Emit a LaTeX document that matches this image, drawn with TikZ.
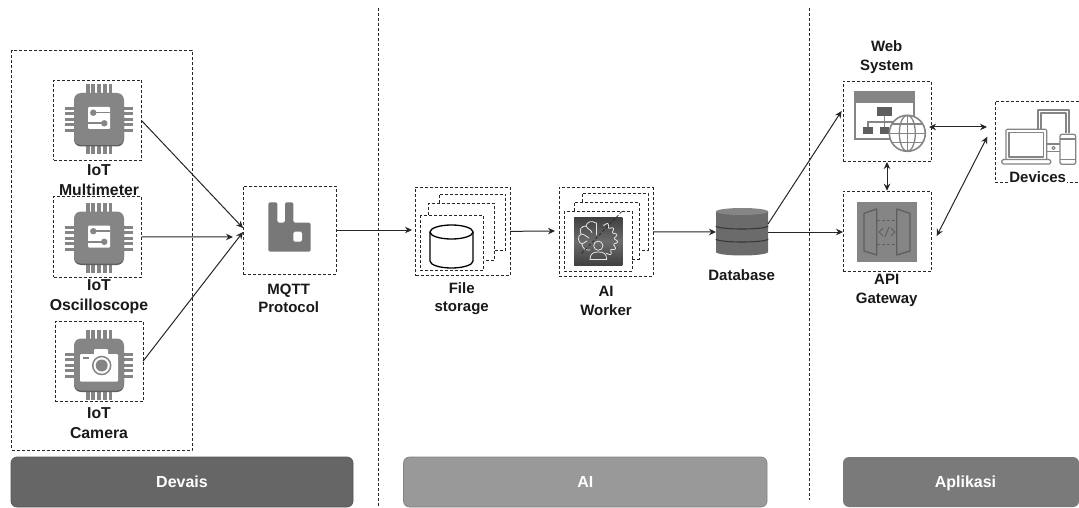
\documentclass[tikz,border=0pt]{standalone}
\usepackage{fontspec}
\setmainfont{Liberation Sans}
\usetikzlibrary{arrows.meta}
\definecolor{icon}{HTML}{858585}
\definecolor{icond}{HTML}{5E5E5E}
\definecolor{barA}{HTML}{666666}
\definecolor{barB}{HTML}{999999}
\definecolor{barC}{HTML}{7A7A7A}
\tikzset{
  dbox/.style={draw=black!85,line width=0.7pt,dash pattern=on 3pt off 2pt,rectangle,inner sep=0pt,outer sep=0pt},
  dline/.style={draw=black!85,line width=0.7pt,dash pattern=on 3pt off 2pt},
  sep/.style={draw=black!85,line width=0.7pt,dash pattern=on 3pt off 2pt},
  conn/.style={draw=black!85,line width=1pt,-{Stealth[length=7pt,width=6.5pt]}},
  conn2/.style={draw=black!85,line width=1pt,{Stealth[length=7pt,width=6.5pt]}-{Stealth[length=7pt,width=6.5pt]}},
  lab/.style={font=\fontsize{15}{18.5}\selectfont\bfseries,align=center,text=black!90,inner sep=0pt},
  labl/.style={font=\fontsize{15.8}{19.5}\selectfont\bfseries,align=center,text=black!90,inner sep=0pt},
  bar/.style={rectangle,rounded corners=6pt,draw=#1!85!black,fill=#1,line width=0.7pt,inner sep=0pt,outer sep=0pt,minimum height=50pt,text=white,font=\fontsize{16}{18}\selectfont\bfseries},
  chipbase/.pic={
    \foreach \d in {-11.4,-5.7,0,5.7,11.4}{
      \fill[icon] (\d-1.9,-35) rectangle (\d+1.9,-25);
      \fill[icon] (\d-1.9,25) rectangle (\d+1.9,35);
    }
    \foreach \d in {-11,-5.5,0,5.5,11}{
      \fill[icon] (-34,\d-1.5) rectangle (-24,\d+1.5);
      \fill[icon] (24,\d-1.5) rectangle (34,\d+1.5);
    }
    \fill[icond,rounded corners=7pt] (-25,-20) rectangle (25,27);
    \fill[icon,rounded corners=7pt] (-25,-26.5) rectangle (25,25.5);
  },
  circuit/.pic={
    \fill[white,rounded corners=1pt] (-11,-12.5) rectangle (11,9.5);
    \draw[icon,line width=1.6pt] (-5.7,-6.8) -- (11,-6.8);
    \draw[icon,line width=1.6pt] (5.3,3.8) -- (-11,3.8);
    \fill[icon] (-5.7,-6.8) circle[radius=3.2pt];
    \fill[icon] (5.3,3.8) circle[radius=3.2pt];
  }
}
\begin{document}
\begin{tikzpicture}[x=1pt,y=-1pt]
\useasboundingbox (0,0) rectangle (1079,508);
\fill[white] (0,0) rectangle (1079,508);

% separators
\coordinate (s1a) at (378,8); \coordinate (s1b) at (378,508);
\coordinate (s2a) at (809.3,8); \coordinate (s2b) at (809.3,500);
\draw[sep] (s1a) -- (s1b);
\draw[sep] (s2a) -- (s2b);

% bars
\node[bar=barA,minimum width=342pt] (bdev) at (182,482) {Devais};
\node[bar=barB,minimum width=363.5pt] (bai) at (585.3,482) {AI};
\fill[barC,rounded corners=6pt] (1079,457) -- (843,457) -- (843,507) -- (1079,507) -- cycle;
\node[text=white,font=\fontsize{16}{18}\selectfont\bfseries,inner sep=0pt] (bapp) at (965.5,483.5) {Aplikasi};

% device group
\node[dbox,minimum width=180.5pt,minimum height=399.5pt] (grp) at (101.75,250.25) {};
\node[dbox,minimum width=88pt,minimum height=80pt] (mm) at (97.5,120.5) {};
\node[dbox,minimum width=88pt,minimum height=80.5pt] (os) at (97.5,236.75) {};
\node[dbox,minimum width=88pt,minimum height=80.5pt] (ca) at (99,361.25) {};
\node[dbox,minimum width=93pt,minimum height=88pt] (mq) at (289.5,230) {};

\pic at (99,119.5) {chipbase};
\pic at (99,119.5) {circuit};
\pic at (99,238) {chipbase};
\pic at (99,238) {circuit};
\pic at (99,365) {chipbase};
% camera
\fill[white,rounded corners=1pt] (80,354) rectangle (118,381.7);
\fill[white,rounded corners=1pt] (94,349) rectangle (108,356);
\fill[icon] (83,357) rectangle (89,359);
\draw[icon,line width=1.5pt,fill=white] (101.7,365.5) circle[radius=9pt];
\fill[icon] (101.7,365.5) circle[radius=6pt];

% MQTT rabbit
\fill[icon!90!black,rounded corners=1.5pt] (268.3,251.7) -- (268.3,202.3) -- (277.3,202.3) -- (277.3,222.7) -- (285,222.7) -- (285,202.3) -- (293.3,202.3) -- (293.3,222.7) -- (310.7,222.7) -- (310.7,251.7) -- cycle;
\fill[white,rounded corners=1.5pt] (293.3,231.7) rectangle (302,241.7);

% file storage
\node[dbox,minimum width=94.5pt,minimum height=88.7pt] (fs) at (462.75,231.35) {};
\draw[dline] (439,203) -- (439,194) -- (505.7,194) -- (505.7,250.7) -- (494,250.7);
\draw[dline] (428.5,215) -- (428.5,203) -- (494,203) -- (494,260) -- (483.5,260);
\draw[dline] (420,215) rectangle (483.5,270);
\draw[line width=1.3pt,black] (430,232) -- (430,261) arc[start angle=180,end angle=360,x radius=21.5pt,y radius=7pt] -- (473,232);
\draw[line width=1.3pt,black,fill=white] (451.5,232) ellipse[x radius=21.5pt,y radius=7pt];

% AI worker
\node[dbox,minimum width=94pt,minimum height=88.3pt] (ai) at (606,231.85) {};
\draw[dline] (582,202) -- (582,193) -- (648,193) -- (648,250) -- (639,250);
\draw[dline] (574,211) -- (574,202) -- (639,202) -- (639,259) -- (632,259);
\draw[dline] (564,211) rectangle (632,271);
\path[top color=black!75,bottom color=black!75,middle color=black!58] (574,217.3) rectangle (622.3,265.5);
\begin{scope}[white!90!black,line width=0.8pt,line cap=round,line join=round]
  \draw (596,223) .. controls (591,220) and (587,222) .. (586,226) .. controls (581,226) and (579,230) .. (581,234) .. controls (577,236) and (578,243) .. (582,244) .. controls (582,248) and (586,251) .. (590,250);
  \draw (596,223) -- (596,235);
  \draw (586,226) .. controls (588,230) and (592,230) .. (592,233);
  \draw (581,234) .. controls (585,234) and (586,237) .. (589,238);
  \draw (582,244) -- (587,241);
  \draw plot[domain=-75:62,samples=140,smooth] ({599+(17+1.6*sin(\x*16))*cos(\x)},{240+(17+1.6*sin(\x*16))*sin(\x)});
  \draw (598.3,245.7) circle[radius=4.6pt];
  \draw (590,259.5) .. controls (590,253) and (594,252) .. (598.3,252) .. controls (603,252) and (606.7,253) .. (606.7,259.5) -- cycle;
\end{scope}
\coordinate (d1) at (581.7,253.3); \coordinate (d2) at (621.7,211.7);
\draw[line width=0.7pt,black!85,dash pattern=on 3pt off 2pt] (d1) -- (d2);

% database
\node[minimum width=52pt,minimum height=47pt,inner sep=0pt,outer sep=0pt] (db) at (742,232) {};
\fill[black!58] (716,211) -- (716,252) arc[start angle=180,end angle=360,x radius=26pt,y radius=3.5pt] -- (768,211) -- cycle;
\fill[black!48] (742,211.5) ellipse[x radius=26pt,y radius=3.5pt];
\draw[black!78,line width=1.1pt] (716,226) arc[start angle=180,end angle=360,x radius=26pt,y radius=3pt];
\draw[black!78,line width=1.1pt] (716,239) arc[start angle=180,end angle=360,x radius=26pt,y radius=3pt];

% web system
\node[dbox,minimum width=88pt,minimum height=80.6pt] (web) at (887,121.3) {};
\draw[icon,line width=1.5pt] (855,92) rectangle (914,139);
\fill[icon] (855,92) rectangle (914,102.6);
\fill[icond] (877,107) rectangle (892,116);
\fill[icond] (863,127) rectangle (873,134.5);
\fill[icond] (880,127) rectangle (889,134.5);
\draw[icon,line width=1.2pt] (884.5,116) -- (884.5,127);
\draw[icon,line width=1.2pt] (868,127) -- (868,122) -- (905,122);
\draw[icon,line width=1.6pt,fill=white] (907.3,133.3) circle[radius=18pt];
\draw[icon,line width=1.3pt] (907.3,133.3) ellipse[x radius=8pt,y radius=18pt];
\draw[icon,line width=1.3pt] (907.3,115.3) -- (907.3,151.3);
\draw[icon,line width=1.3pt] (889.3,133.3) -- (925.3,133.3);
\draw[icon,line width=1.3pt] (892,124) -- (922.6,124);
\draw[icon,line width=1.3pt] (892,142.6) -- (922.6,142.6);

% api gateway
\node[dbox,minimum width=88pt,minimum height=80.6pt] (api) at (887,231.3) {};
\fill[icon] (857.3,202.3) rectangle (916.7,261.7);
\draw[icond,line width=1.3pt,line join=round] (864,213.3) -- (876.7,209) -- (876.7,255) -- (864,251) -- cycle;
\draw[icond,line width=1.3pt,line join=round] (910,213.3) -- (896.7,209) -- (896.7,255) -- (910,251) -- cycle;
\draw[icond,line width=1pt,dash pattern=on 3pt off 2pt] (877,220) -- (896.7,220);
\draw[icond,line width=1pt,dash pattern=on 3pt off 2pt] (877,244) -- (896.7,244);
\draw[icond,line width=1pt] (883,228) -- (879,232) -- (883,236);
\draw[icond,line width=1pt] (891,228) -- (895,232) -- (891,236);
\draw[icond,line width=1pt] (889,227) -- (885,237);

% devices
\node[minimum width=84pt,minimum height=81pt,inner sep=0pt,outer sep=0pt] (dev) at (1037,141.5) {};
\draw[dline] (dev.north east) -- (dev.north west) -- (dev.south west) -- (dev.south east);
\begin{scope}[icon,line width=1.1pt,line join=round]
  \draw (1038,129) -- (1038,110) -- (1069,110) -- (1069,133);
  \draw (1041,129) -- (1041,113) -- (1066,113) -- (1066,133);
  \draw[rounded corners=1pt] (1006,159) -- (1006,129.3) -- (1046.7,129.3) -- (1046.7,159);
  \draw (1009,157) rectangle (1043.7,132.5);
  \draw[rounded corners=1.5pt,line width=1.3pt] (1001.7,159.5) rectangle (1050.7,164);
  \draw (1047,144) -- (1060,144) (1047,151.7) -- (1060,151.7);
  \draw (1053.5,148) circle[radius=1.6pt];
  \draw[rounded corners=2pt,line width=1.3pt] (1060,134.3) rectangle (1075.7,164.3);
  \draw (1060,139) -- (1075.7,139) (1060,159.5) -- (1075.7,159.5);
\end{scope}

% connector ends
\coordinate (mqa) at (243,228);
\coordinate (mqb) at (233,237);
\coordinate (mqc) at (243,232);
\coordinate (fsin) at (412,230);
\coordinate (aiin) at (555,231);
\coordinate (dbin) at (716,232);
\coordinate (dbout) at (768,224);
\coordinate (apiin) at (843,232);
\coordinate (webin) at (841.6,111);
\coordinate (w1) at (929,127);
\coordinate (d3) at (987,127);
\coordinate (a1) at (936.7,236);
\coordinate (d4) at (987.3,136.7);
\coordinate (wb) at (887,162);
\coordinate (at) at (887,190.7);

\draw[conn] (mm.east) -- (mqa);
\draw[conn] (os.east) -- (mqb);
\draw[conn] (ca.east) -- (mqc);
\draw[conn] (mq.east) -- (fsin);
\draw[conn] (fs.east) -- (aiin);
\draw[conn] (ai.east) -- (dbin);
\draw[conn] (dbout) -- (webin);
\draw[conn] (db.east) -- (apiin);
\draw[conn2] (w1) -- (d3);
\draw[conn2] (a1) -- (d4);
\draw[conn2] (wb) -- (at);

% labels
\node[labl] (lmm) at (99,180) {IoT\\Multimeter};
\node[labl] (los) at (99,296.5) {IoT\\Oscilloscope};
\node[labl] (lca) at (99,423) {IoT\\Camera};
\node[lab] (lmq) at (288.7,298.5) {MQTT\\Protocol};
\node[lab] (lfs) at (461.7,298.5) {File\\storage};
\node[lab] (lai) at (606,301) {AI\\Worker};
\node[lab] (ldb) at (741.7,275) {Database};
\node[lab] (lwe) at (886.7,57) {Web\\System};
\node[lab] (lap) at (886.7,290.5) {API\\Gateway};
\node[lab,fill=white,inner xsep=1pt] (lde) at (1037.7,177) {Devices};
\end{tikzpicture}
\end{document}
